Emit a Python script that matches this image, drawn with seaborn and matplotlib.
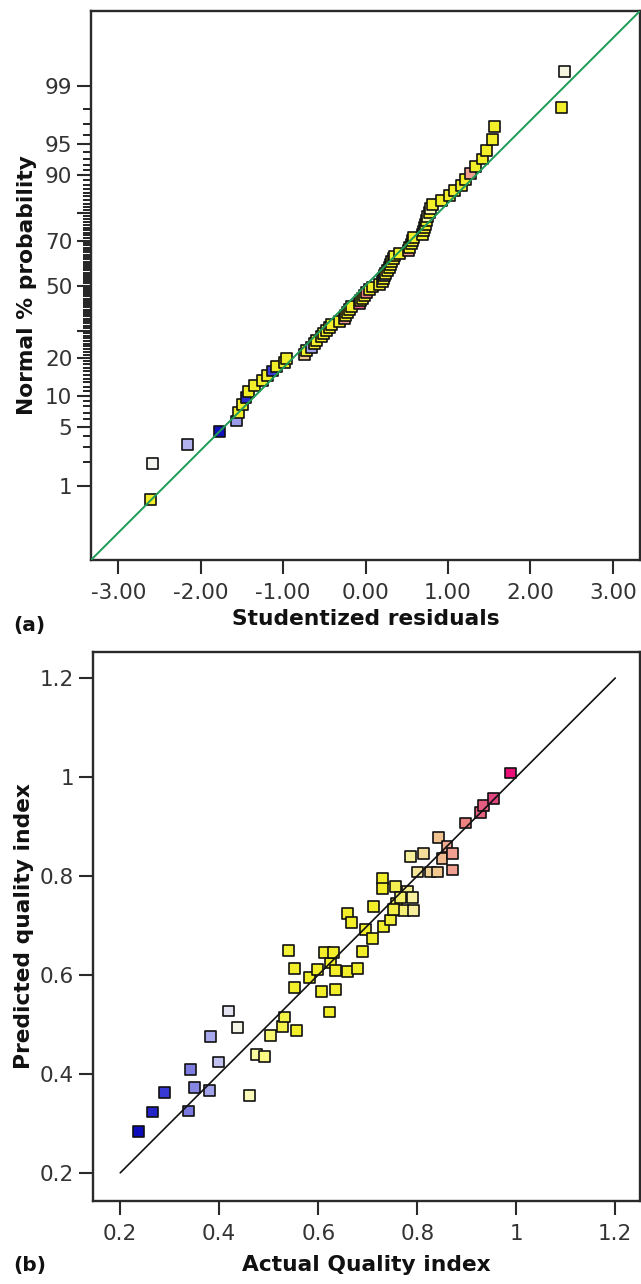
import matplotlib
matplotlib.use("Agg")
import matplotlib.pyplot as plt
import numpy as np
import pandas as pd
import seaborn as sns
from matplotlib.colors import LinearSegmentedColormap
from statistics import NormalDist

# ---------------- panel (a): normal probability plot ----------------
resid = [-2.61, -2.58, -2.16, -1.77, -1.56, -1.54, -1.49, -1.45, -1.42, -1.35,
         -1.25, -1.19, -1.13, -1.08, -0.98, -0.96, -0.74, -0.72, -0.65, -0.62,
         -0.59, -0.53, -0.51, -0.47, -0.44, -0.41, -0.32, -0.25, -0.24, -0.22,
         -0.19, -0.17, -0.07, -0.06, -0.04, -0.01, 0.01, 0.05, 0.08, 0.17,
         0.21, 0.22, 0.23, 0.24, 0.27, 0.29, 0.30, 0.32, 0.34, 0.35,
         0.41, 0.52, 0.53, 0.56, 0.57, 0.58, 0.69, 0.70, 0.72, 0.73,
         0.74, 0.75, 0.78, 0.79, 0.81, 0.92, 1.02, 1.08, 1.16, 1.21,
         1.27, 1.33, 1.42, 1.47, 1.54, 1.56, 2.38, 2.41]
prob_pct = [0.64, 1.92, 3.21, 4.49, 5.77, 7.05, 8.33, 9.62, 10.90, 12.18,
            13.46, 14.74, 16.03, 17.31, 18.59, 19.87, 21.15, 22.44, 23.72, 25.00,
            26.28, 27.56, 28.85, 30.13, 31.41, 32.69, 33.97, 35.26, 36.54, 37.82,
            39.10, 40.38, 41.67, 42.95, 44.23, 45.51, 46.79, 48.08, 49.36, 50.64,
            51.92, 53.21, 54.49, 55.77, 57.05, 58.33, 59.62, 60.90, 62.18, 63.46,
            64.74, 66.03, 67.31, 68.59, 69.87, 71.15, 72.44, 73.72, 75.00, 76.28,
            77.56, 78.85, 80.13, 81.41, 82.69, 83.97, 85.26, 86.54, 87.82, 89.10,
            90.38, 91.67, 92.95, 94.23, 95.51, 96.79, 98.08, 99.36]
# quality level of each run (sets its colour)
resid_level = [0.60, 0.43, 0.39, 0.24, 0.37, 0.60, 0.60, 0.27, 0.60, 0.60,
               0.60, 0.60, 0.29, 0.60, 0.60, 0.60, 0.84, 0.60, 0.38, 0.60,
               0.60, 0.60, 0.60, 0.60, 0.60, 0.60, 0.60, 0.87, 0.60, 0.60,
               0.60, 0.60, 0.93, 0.60, 0.60, 0.60, 0.90, 0.60, 0.60, 0.60,
               0.60, 0.60, 0.38, 0.60, 0.60, 0.60, 0.60, 0.60, 0.60, 0.60,
               0.60, 0.87, 0.60, 0.60, 0.60, 0.60, 0.60, 0.60, 0.60, 0.60,
               0.60, 0.47, 0.60, 0.46, 0.60, 0.60, 0.60, 0.60, 0.60, 0.60,
               0.87, 0.60, 0.60, 0.60, 0.60, 0.60, 0.60, 0.44]

fit_resid = [-3.33, 3.33]
fit_prob = [0.071, 99.93]

prob_ticks = [1, 5, 10, 20, 30, 50, 70, 80, 90, 95, 99]
prob_ticklabels = ["1", "5", "10", "20", "", "50", "70", "", "90", "95", "99"]
prob_minor = list(range(1, 100))
resid_ticks = [-3, -2, -1, 0, 1, 2, 3]
resid_ticklabels = ["-3.00", "-2.00", "-1.00", "0.00", "1.00", "2.00", "3.00"]

# ---------------- panel (b): predicted vs actual ----------------
actual = [0.236, 0.265, 0.289, 0.338, 0.341, 0.350, 0.380, 0.382, 0.398, 0.418,
          0.437, 0.461, 0.476, 0.491, 0.503, 0.527, 0.531, 0.556, 0.540, 0.552,
          0.552, 0.582, 0.598, 0.606, 0.612, 0.622, 0.624, 0.630, 0.634, 0.634,
          0.659, 0.679, 0.689, 0.695, 0.710, 0.731, 0.659, 0.667, 0.711, 0.729,
          0.730, 0.756, 0.745, 0.758, 0.772, 0.780, 0.790, 0.792, 0.766, 0.752,
          0.786, 0.800, 0.812, 0.826, 0.840, 0.842, 0.850, 0.860, 0.871, 0.871,
          0.897, 0.927, 0.933, 0.954, 0.988]
predicted = [0.283, 0.323, 0.362, 0.325, 0.408, 0.372, 0.366, 0.475, 0.424, 0.527,
             0.493, 0.356, 0.440, 0.435, 0.477, 0.495, 0.515, 0.487, 0.650, 0.574,
             0.612, 0.594, 0.610, 0.566, 0.646, 0.525, 0.624, 0.646, 0.570, 0.608,
             0.606, 0.612, 0.648, 0.691, 0.674, 0.698, 0.725, 0.705, 0.739, 0.795,
             0.774, 0.778, 0.711, 0.745, 0.731, 0.768, 0.756, 0.731, 0.757, 0.733,
             0.840, 0.808, 0.846, 0.808, 0.808, 0.877, 0.836, 0.859, 0.846, 0.812,
             0.907, 0.929, 0.943, 0.956, 1.008]
diag = [0.2, 1.2]
q_ticks = [0.2, 0.4, 0.6, 0.8, 1.0, 1.2]
q_ticklabels = ["0.2", "0.4", "0.6", "0.8", "1", "1.2"]

# ---------------- styling ----------------
sns.set_style("ticks")
plt.rcParams["font.family"] = ["DejaVu Sans"]

lo, hi = 0.23, 0.99
stops = [(0.23, "#0808b8"), (0.29, "#3c3cd8"), (0.34, "#7e7ee0"), (0.38, "#a4a4ec"),
         (0.40, "#c8c8f2"), (0.43, "#f4f4f0"), (0.46, "#fbfbb8"), (0.50, "#f8f870"),
         (0.55, "#f2ee2a"), (0.74, "#f2ee2a"), (0.79, "#f6f0a0"), (0.84, "#f2c890"),
         (0.87, "#f0a090"), (0.90, "#ee8080"), (0.95, "#e04c80"), (0.99, "#ea1078")]
cmap = LinearSegmentedColormap.from_list(
    "de", [((v - lo) / (hi - lo), c) for v, c in stops])

INK = "#2a2a2a"
TICKC = "#333333"
LABEL_FS = 15.7
TICK_FS = 15.5


def style_axes(ax):
    for sp in ax.spines.values():
        sp.set_visible(True)
        sp.set_color(INK)
        sp.set_linewidth(1.7)
    ax.tick_params(axis="both", which="major", direction="out", length=10,
                   width=1.5, color=INK, labelsize=TICK_FS, labelcolor=TICKC)
    ax.tick_params(axis="x", which="major", pad=6.5)
    ax.tick_params(axis="y", which="major", pad=3.5)
    ax.grid(False)
    ax.set_facecolor("white")


fig = plt.figure(figsize=(6.41, 12.84), dpi=100)
fig.patch.set_facecolor("white")

# ---- panel (a)
nd = NormalDist()
ax1 = fig.add_axes([0.142, 0.5639, 0.8565, 0.4276])
df_a = pd.DataFrame({"resid": resid,
                     "z": [nd.inv_cdf(p / 100.0) for p in prob_pct],
                     "level": resid_level})
sns.scatterplot(data=df_a, x="resid", y="z", hue="level", palette=cmap,
                hue_norm=(lo, hi), marker="s", s=62, edgecolor="#111111",
                linewidth=1.2, legend=False, ax=ax1, zorder=3)
sns.lineplot(x=fit_resid, y=[nd.inv_cdf(p / 100.0) for p in fit_prob],
             color="#1f9a57", linewidth=1.4, ax=ax1, zorder=4)
ax1.set_xlim(-3.33, 3.33)
ax1.set_ylim(nd.inv_cdf(fit_prob[0] / 100.0), nd.inv_cdf(fit_prob[1] / 100.0))
ax1.set_xticks(resid_ticks)
ax1.set_xticklabels(resid_ticklabels)
ax1.set_yticks([nd.inv_cdf(p / 100.0) for p in prob_ticks])
ax1.set_yticklabels(prob_ticklabels)
ax1.set_yticks([nd.inv_cdf(p / 100.0) for p in prob_minor], minor=True)
style_axes(ax1)
ax1.tick_params(axis="y", which="minor", direction="out", length=6, width=1.3,
                color="#111111")
ax1.set_xlabel("Studentized residuals", fontsize=LABEL_FS, fontweight="bold",
               color="#111111")
ax1.set_ylabel("Normal % probability", fontsize=LABEL_FS, fontweight="bold",
               color="#111111")
ax1.xaxis.set_label_coords(0.5, -0.090)
ax1.yaxis.set_label_coords(-0.099, 0.5)

# ---- panel (b)
ax2 = fig.add_axes([0.1451, 0.0646, 0.8534, 0.4276])
df_b = pd.DataFrame({"actual": actual, "predicted": predicted})
sns.scatterplot(data=df_b, x="actual", y="predicted", hue="actual",
                palette=cmap, hue_norm=(lo, hi), marker="s", s=62,
                edgecolor="#111111", linewidth=1.2, legend=False, ax=ax2,
                zorder=3)
sns.lineplot(x=diag, y=diag, color="#111111", linewidth=1.2, ax=ax2, zorder=4)
ax2.set_xlim(0.145, 1.25)
ax2.set_ylim(0.143, 1.2525)
ax2.set_xticks(q_ticks)
ax2.set_xticklabels(q_ticklabels)
ax2.set_yticks(q_ticks)
ax2.set_yticklabels(q_ticklabels)
style_axes(ax2)
ax2.set_xlabel("Actual Quality index", fontsize=LABEL_FS, fontweight="bold",
               color="#111111")
ax2.set_ylabel("Predicted quality index", fontsize=LABEL_FS, fontweight="bold",
               color="#111111")
ax2.xaxis.set_label_coords(0.5, -0.098)
ax2.yaxis.set_label_coords(-0.107, 0.5)

fig.text(13 / 641, 1 - 625 / 1284, "(a)", fontsize=14.5, fontweight="bold",
         ha="left", va="center", color="#111111")
fig.text(13 / 641, 1 - 1266 / 1284, "(b)", fontsize=14.5, fontweight="bold",
         ha="left", va="center", color="#111111")

fig.savefig("out.png", dpi=100, facecolor="white")
